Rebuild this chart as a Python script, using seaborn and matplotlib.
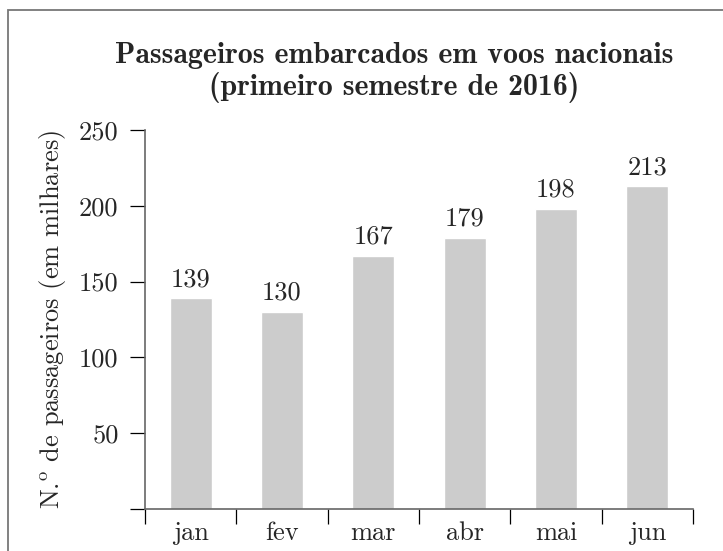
import numpy as np
import matplotlib
matplotlib.use("Agg")
import matplotlib.pyplot as plt
import matplotlib.patches as patches
import seaborn as sns

meses = ["jan", "fev", "mar", "abr", "mai", "jun"]
passageiros = [139, 130, 167, 179, 198, 213]
y_ticks = [0, 50, 100, 150, 200, 250]

sns.set_style("white")
plt.rcParams["font.family"] = "cmr10"
plt.rcParams["mathtext.fontset"] = "cm"
plt.rcParams["axes.formatter.use_mathtext"] = True

fs = 19

fig = plt.figure(figsize=(7.23, 5.51), dpi=100)
ax = fig.add_axes([145 / 723, 42 / 551, 548 / 723, 379 / 551])

sns.barplot(x=meses, y=passageiros, color="#cccccc", saturation=1, width=0.46, ax=ax)
for c in ax.containers:
    ax.bar_label(c, labels=[str(v) for v in passageiros], padding=5, fontsize=fs)

ax.set_xlim(-0.5, len(meses) - 0.5)
ax.set_ylim(0, 250)
ax.set_yticks(y_ticks)
ax.set_yticklabels([""] + [str(v) for v in y_ticks[1:]], fontsize=fs)
ax.set_xticks(range(len(meses)))
ax.set_xticklabels(meses, fontsize=fs)
ax.set_xticks(np.arange(-0.5, len(meses)), minor=True)
ax.tick_params(which="both", bottom=True, left=True)
ax.tick_params(axis="x", which="major", length=0, pad=9)
ax.tick_params(axis="x", which="minor", length=11, width=0.9, color="black", direction="out")
ax.tick_params(axis="y", which="major", length=11, width=0.9, color="black", direction="out", pad=8)
ax.set_xlabel("")
ax.set_ylabel(r"N.$^{\mathrm{o}}$ de passageiros (em milhares)", fontsize=fs, labelpad=8)

for s in ["top", "right"]:
    ax.spines[s].set_visible(False)
for s in ["left", "bottom"]:
    ax.spines[s].set_color("#666666")
    ax.spines[s].set_linewidth(1.2)

fig.text(0.545, 448 / 551, "Passageiros embarcados em voos nacionais\n(primeiro semestre de 2016)",
         ha="center", va="bottom", fontsize=21.5, family="cmb10", linespacing=1.12)

fig.patches.append(patches.Rectangle((8 / 723, -0.1), 1.1, 541 / 551 + 0.1, transform=fig.transFigure,
                                     fill=False, edgecolor="#777777", linewidth=1.3, clip_on=False))

fig.savefig("out.png", dpi=100)
